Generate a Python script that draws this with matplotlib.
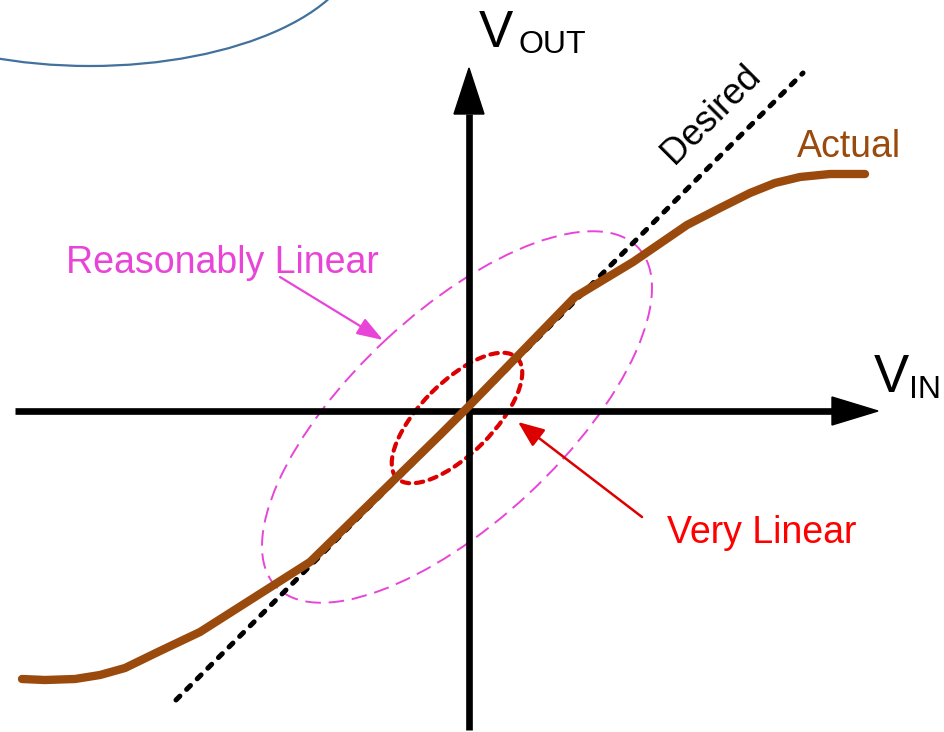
import matplotlib
matplotlib.use("Agg")
import matplotlib.pyplot as plt
import numpy as np
from matplotlib.patches import Ellipse, Polygon

plt.rcParams['font.family'] = ['Liberation Sans', 'DejaVu Sans']

# diagram laid out in pixel space (945 x 732, y down)
# actual transfer curve
actual_x = [22, 45, 75, 100, 125, 160, 200, 310, 440, 470, 575, 633, 687, 720, 750, 775, 800, 830, 865]
actual_y = [679, 680, 679, 675, 668, 651, 632, 562, 435, 405, 297, 262, 225, 208, 193, 183, 177, 174, 174]
# desired (ideal) line end points
desired_x = [176, 803]
desired_y = [700, 73]
# axes: origin and extents
origin = (469, 411)
x_axis_ends = (15, 878)
y_axis_ends = (730, 68)

# regions
wide_center, wide_axes, wide_angle = (457, 417), (496, 210), -43
tight_center, tight_axes, tight_angle = (457, 418), (170, 72), -45

brown = '#9A4A0C'
magenta = '#E845D8'
red = '#FF0000'
darkred = '#DD0000'

fig = plt.figure(figsize=(9.45, 7.32), dpi=100)
ax = fig.add_axes([0, 0, 1, 1])
ax.set_xlim(0, 945)
ax.set_ylim(732, 0)
ax.axis('off')

# partial blue ellipse at top left
ax.add_patch(Ellipse((90, -60), 540, 252, fill=False, ec='#41719C', lw=1.6))

# axes with arrowheads
head = 46
ax.plot([x_axis_ends[0], x_axis_ends[1] - head], [origin[1]] * 2, color='black', lw=4.8,
        solid_capstyle='butt')
ax.add_patch(Polygon([[x_axis_ends[1] - head, origin[1] - 14], [x_axis_ends[1], origin[1]],
                      [x_axis_ends[1] - head, origin[1] + 14]], closed=True, fc='black', ec='black'))
ax.plot([origin[0]] * 2, [y_axis_ends[0], y_axis_ends[1] + head], color='black', lw=4.8,
        solid_capstyle='butt')
ax.add_patch(Polygon([[origin[0] - 15, y_axis_ends[1] + head], [origin[0], y_axis_ends[1]],
                      [origin[0] + 15, y_axis_ends[1] + head]], closed=True, fc='black', ec='black'))

# desired line
ax.plot(desired_x, desired_y, color='black', lw=3.6, dashes=(1.1, 1.9), dash_capstyle='round')

# actual curve
ax.plot(actual_x, actual_y, color=brown, lw=6, solid_capstyle='round', solid_joinstyle='round')

# linear regions
ax.add_patch(Ellipse(wide_center, wide_axes[0], wide_axes[1], angle=wide_angle, fill=False,
                     ec=magenta, lw=1.4, ls=(0, (8, 4))))
e2 = Ellipse(tight_center, tight_axes[0], tight_axes[1], angle=tight_angle, fill=False,
             ec=darkred, lw=3, ls=(0, (1.8, 1.6)))
e2.set_capstyle('round')
ax.add_patch(e2)

# callout arrows
ax.annotate('', xy=(383, 340), xytext=(280, 277),
            arrowprops=dict(arrowstyle='-|>,head_length=1.6,head_width=0.55', color=magenta,
                            lw=1.6, shrinkA=0, shrinkB=0))
ax.annotate('', xy=(518, 422), xytext=(642, 517),
            arrowprops=dict(arrowstyle='-|>,head_length=1.6,head_width=0.65', color=darkred,
                            lw=1.8, shrinkA=0, shrinkB=0))

# labels
ax.text(479, 47, 'V', fontsize=37, va='baseline', ha='left')
ax.text(518, 53, 'OUT', fontsize=23, va='baseline', ha='left')
ax.text(874, 392, 'V', fontsize=38, va='baseline', ha='left')
ax.text(909, 398, 'IN', fontsize=23, va='baseline', ha='left')
ax.text(797, 157, 'Actual', fontsize=27, color=brown, va='baseline', ha='left')
ax.text(711, 114, 'Desired', fontsize=26, rotation=45, rotation_mode='anchor',
        ha='center', va='center')
ax.text(66, 273, 'Reasonably Linear', fontsize=27, color=magenta, va='baseline', ha='left')
ax.text(667, 543, 'Very Linear', fontsize=27, color=red, va='baseline', ha='left')

fig.savefig('out.png', dpi=100)
